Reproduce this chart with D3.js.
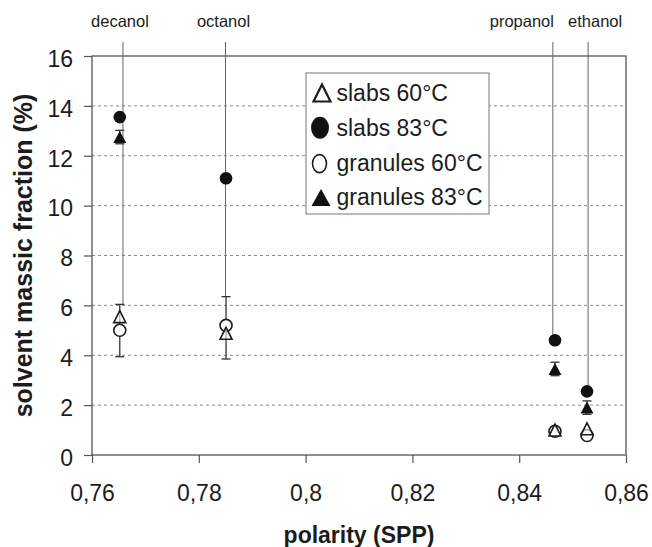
<!DOCTYPE html>
<html>
<head>
<meta charset="utf-8">
<script src="https://cdn.jsdelivr.net/npm/d3@7"></script>
<style>
  body { margin: 0; background: #fff; }
  svg text { font-family: "Liberation Sans", Arial, sans-serif; fill: #1c1c1c; }
</style>
</head>
<body>
<div id="chart"></div>
<script>
// values
const solvents = ["decanol", "octanol", "propanol", "ethanol"];
const polarity = [0.7652, 0.7851, 0.8467, 0.8527];
const labelLineX = [0.7658, 0.785, 0.8463, 0.8529];
const labelDx = [-3, -2, -31, 7];

const slabs60 = [5.55, 4.88, 1.0, 1.05];
const slabs83 = [13.55, 11.1, 4.6, 2.55];
const granules60 = [5.0, 5.2, 0.95, 0.78];
const granules83 = [12.75, null, 3.45, 1.9];

const granules60Low = [3.94, 3.85, null, null];
const granules60High = [6.04, 6.35, null, null];
const granules83Err = [0.27, null, 0.27, 0.27];

const xTicks = [0.76, 0.78, 0.8, 0.82, 0.84, 0.86];
const yTicks = [0, 2, 4, 6, 8, 10, 12, 14, 16];
const gridTicks = [2, 4, 6, 8, 10, 12, 14];
const legendNames = ["slabs 60°C", "slabs 83°C", "granules 60°C", "granules 83°C"];

const drawChart = () => {
  const W = 652;
  const H = 547;
  const margin = { top: 56, right: 26, bottom: 92, left: 92 };
  const width = W - margin.left - margin.right;
  const height = H - margin.top - margin.bottom;

  const svg = d3
    .select("#chart")
    .append("svg")
    .attr("width", W)
    .attr("height", H);

  const x = d3.scaleLinear().domain([0.76, 0.86]).range([margin.left, margin.left + width]);
  const y = d3.scaleLinear().domain([0, 16]).range([margin.top + height, margin.top]);

  // gridlines
  svg
    .append("g")
    .selectAll("line")
    .data(gridTicks)
    .enter()
    .append("line")
    .attr("x1", x(0.76))
    .attr("x2", x(0.86))
    .attr("y1", (d) => y(d))
    .attr("y2", (d) => y(d))
    .attr("stroke", "#8a8a8a")
    .attr("stroke-width", 1)
    .attr("stroke-dasharray", "3,3");

  // axes
  const xAxis = svg
    .append("g")
    .attr("transform", `translate(0,${y(0)})`)
    .call(
      d3
        .axisBottom(x)
        .tickValues(xTicks)
        .tickSize(8)
        .tickPadding(22)
        .tickFormat((d) => d3.format(".2~f")(d).replace(".", ","))
    );
  const yAxis = svg
    .append("g")
    .attr("transform", `translate(${x(0.76)},0)`)
    .call(d3.axisLeft(y).tickValues(yTicks).tickSize(8).tickPadding(11));

  [xAxis, yAxis].forEach((g) => {
    g.select(".domain").remove();
    g.selectAll(".tick line").attr("stroke", "#555").attr("stroke-width", 1.2);
    g.selectAll(".tick text")
      .attr("fill", "#1c1c1c")
      .style("font-size", "23px")
      .style("font-family", '"Liberation Sans", Arial, sans-serif');
  });
  yAxis.selectAll(".tick text").attr("dy", "0.45em");

  // plot frame
  svg
    .append("rect")
    .attr("x", x(0.76))
    .attr("y", y(16))
    .attr("width", x(0.86) - x(0.76))
    .attr("height", y(0) - y(16))
    .attr("fill", "none")
    .attr("stroke", "#555")
    .attr("stroke-width", 1.3);

  // solvent label lines
  const lineEnd = solvents.map((s, i) =>
    granules60High[i] != null ? granules60High[i] : slabs83[i]
  );
  svg
    .append("g")
    .selectAll("line")
    .data(solvents)
    .enter()
    .append("line")
    .attr("x1", (d, i) => x(labelLineX[i]))
    .attr("x2", (d, i) => x(labelLineX[i]))
    .attr("y1", 42)
    .attr("y2", (d, i) => y(lineEnd[i]))
    .attr("stroke", "#666")
    .attr("stroke-width", 1);

  svg
    .append("g")
    .selectAll("text")
    .data(solvents)
    .enter()
    .append("text")
    .attr("x", (d, i) => x(labelLineX[i]) + labelDx[i])
    .attr("y", 27)
    .attr("text-anchor", "middle")
    .style("font-size", "16.5px")
    .text((d) => d);

  // error bars
  const errG = svg.append("g").attr("stroke", "#333").attr("stroke-width", 1.3);
  const drawErr = (xi, lo, hi) => {
    const cx = x(xi);
    errG.append("line").attr("x1", cx).attr("x2", cx).attr("y1", y(lo)).attr("y2", y(hi));
    errG.append("line").attr("x1", cx - 4.5).attr("x2", cx + 4.5).attr("y1", y(lo)).attr("y2", y(lo));
    errG.append("line").attr("x1", cx - 4.5).attr("x2", cx + 4.5).attr("y1", y(hi)).attr("y2", y(hi));
  };
  polarity.forEach((p, i) => {
    if (granules60Low[i] != null) drawErr(p, granules60Low[i], granules60High[i]);
    if (granules83Err[i] != null && granules83[i] != null)
      drawErr(p, granules83[i] - granules83Err[i], granules83[i] + granules83Err[i]);
  });

  // triangle centred on its bounding box, like spreadsheet markers
  const tri = (w, h) => `M0,${-h / 2}L${w / 2},${h / 2}L${-w / 2},${h / 2}Z`;

  const pts = (vals) =>
    polarity
      .map((p, i) => ({ p: p, v: vals[i] }))
      .filter((d) => d.v != null);

  // granules 60°C - open circle
  svg
    .append("g")
    .selectAll("circle")
    .data(pts(granules60))
    .enter()
    .append("circle")
    .attr("cx", (d) => x(d.p))
    .attr("cy", (d) => y(d.v))
    .attr("r", 6)
    .attr("fill", "#fff")
    .attr("stroke", "#1c1c1c")
    .attr("stroke-width", 1.6);

  // slabs 60°C - open triangle
  svg
    .append("g")
    .selectAll("path")
    .data(pts(slabs60))
    .enter()
    .append("path")
    .attr("d", tri(12, 12))
    .attr("transform", (d) => `translate(${x(d.p)},${y(d.v)})`)
    .attr("fill", "#fff")
    .attr("fill-opacity", 0.6)
    .attr("stroke", "#1c1c1c")
    .attr("stroke-width", 1.6);

  // slabs 83°C - filled circle
  svg
    .append("g")
    .selectAll("circle")
    .data(pts(slabs83))
    .enter()
    .append("circle")
    .attr("cx", (d) => x(d.p))
    .attr("cy", (d) => y(d.v))
    .attr("r", 6.3)
    .attr("fill", "#111");

  // granules 83°C - filled triangle
  svg
    .append("g")
    .selectAll("path")
    .data(pts(granules83))
    .enter()
    .append("path")
    .attr("d", tri(13, 12))
    .attr("transform", (d) => `translate(${x(d.p)},${y(d.v)})`)
    .attr("fill", "#111");

  // legend
  const legend = svg.append("g");
  legend
    .append("rect")
    .attr("x", 306)
    .attr("y", 73)
    .attr("width", 183)
    .attr("height", 141)
    .attr("fill", "#fff")
    .attr("stroke", "#777")
    .attr("stroke-width", 1);

  const rows = legend
    .selectAll("g")
    .data(legendNames)
    .enter()
    .append("g")
    .attr("transform", (d, i) => `translate(320,${101 + i * 34.8})`);

  rows
    .append("text")
    .attr("x", 16.5)
    .attr("y", 0)
    .style("font-size", "23px")
    .text((d) => d);

  rows.each(function (d, i) {
    const g = d3.select(this);
    if (i === 0) {
      g.append("path")
        .attr("d", tri(17, 17))
        .attr("transform", "translate(2,-8)")
        .attr("fill", "#fff")
        .attr("stroke", "#1c1c1c")
        .attr("stroke-width", 2.2);
    } else if (i === 1) {
      g.append("ellipse").attr("cx", 0).attr("cy", -8).attr("rx", 9).attr("ry", 11).attr("fill", "#111");
    } else if (i === 2) {
      g.append("ellipse")
        .attr("cx", -0.5)
        .attr("cy", -7)
        .attr("rx", 7)
        .attr("ry", 9)
        .attr("fill", "#fff")
        .attr("stroke", "#1c1c1c")
        .attr("stroke-width", 1.6);
    } else {
      g.append("path").attr("d", tri(19, 17)).attr("transform", "translate(1,-8)").attr("fill", "#111");
    }
  });

  // axis titles
  svg
    .append("text")
    .attr("x", x(0.81))
    .attr("y", 543)
    .attr("text-anchor", "middle")
    .style("font-size", "23px")
    .style("font-weight", "bold")
    .text("polarity (SPP)");

  svg
    .append("text")
    .attr("transform", `translate(32,${y(8)}) rotate(-90)`)
    .attr("text-anchor", "middle")
    .style("font-size", "25px")
    .style("font-weight", "bold")
    .text("solvent massic fraction (%)");
};

drawChart();
</script>
</body>
</html>
